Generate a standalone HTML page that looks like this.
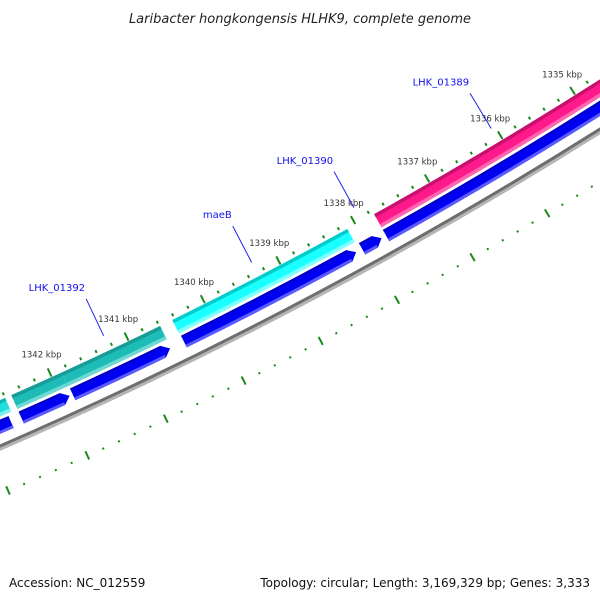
<!DOCTYPE html>
<html><head><meta charset="utf-8"><style>
html,body{margin:0;padding:0;background:#fff}
svg{display:block;font-family:"DejaVu Sans","Liberation Sans",sans-serif}
</style></head><body>
<svg id="map" width="600" height="600" viewBox="0 0 600 600" xmlns="http://www.w3.org/2000/svg">
<rect width="600" height="600" fill="#fff"/>
<text x="300" y="23" text-anchor="middle" font-size="13" font-style="italic" fill="#222">Laribacter hongkongensis HLHK9, complete genome</text>
<g id="rings"></g>
<text x="9" y="587" font-size="12" fill="#111">Accession: NC_012559</text>
<text x="590" y="587" text-anchor="end" font-size="12" fill="#111">Topology: circular; Length: 3,169,329 bp; Genes: 3,333</text>
</svg>
<script>
// feature data (kbp)
const featStart = [1337.75, 1338.11, 1340.59, 1341.87, 1342.60];
const featEnd   = [1334.00, 1340.43, 1341.87, 1342.52, 1344.00];
const featKind  = ['pink','cyan','teal','teal','tealcyan'];
const revStart = [1337.75, 1338.07, 1340.42, 1341.86, 1342.52, 1342.65];
const revEnd   = [1334.00, 1337.81, 1338.15, 1340.60, 1341.90, 1344.00];
const majorTicks = [1334, 1335, 1336, 1337, 1338, 1339, 1340, 1341, 1342, 1343];
const tickLabels = ['1334 kbp','1335 kbp','1336 kbp','1337 kbp','1338 kbp','1339 kbp','1340 kbp','1341 kbp','1342 kbp','1343 kbp'];
const geneNames = ['LHK_01389','LHK_01390','maeB','LHK_01392'];
const geneAt    = [1336.05, 1337.92, 1339.29, 1341.24];

const CX=-1782, CY=-3654, NS='http://www.w3.org/2000/svg';
const g=document.getElementById('rings');
function ang(k){return (61.14+(k-1338)*1.1)*Math.PI/180;}
function pt(k,r){const a=ang(k);return [CX+r*Math.cos(a),CY+r*Math.sin(a)];}
function f(p){return p[0].toFixed(2)+' '+p[1].toFixed(2);}
function band(k1,k2,r1,r2){
  if(k1>k2){const t=k1;k1=k2;k2=t;}
  return 'M'+f(pt(k1,r2))+' A'+r2+' '+r2+' 0 0 1 '+f(pt(k2,r2))+' L'+f(pt(k2,r1))+' A'+r1+' '+r1+' 0 0 0 '+f(pt(k1,r1))+'Z';
}
function mk(tag,attrs){const e=document.createElementNS(NS,tag);for(const a in attrs)e.setAttribute(a,attrs[a]);g.appendChild(e);return e;}

// backbone
let e=mk('path',{d:band(1333,1345,4471.5,4475),fill:'#b5b5b5'});


e=mk('path',{d:band(1333,1345,4469,4472),fill:'#6e6e6e'});



const pal={pink:['#c8106e','#ff1a8c','#ff66b0'],cyan:['#00cccc','#1affff','#80ffff'],teal:['#179c98','#1ebcb6','#6ed8d4'],tealcyan:['#10b8b8','#22dede','#7fefef']};
// forward features
for(let i=0;i<featStart.length;i++){
  const c=pal[featKind[i]];
  const grp=document.createElementNS(NS,'g');g.appendChild(grp);
  
  
  [[4428.5,4443.5,c[1]],[4428.5,4432,c[0]],[4440,4443.5,c[2]]].forEach(b=>{
    const p=document.createElementNS(NS,'path');p.setAttribute('d',band(featStart[i],featEnd[i],b[0],b[1]));p.setAttribute('fill',b[2]);grp.appendChild(p);
  });
}
// reverse (blue) features with arrowheads at lower-kbp end
for(let i=0;i<revStart.length;i++){
  const s=revStart[i],t=revEnd[i];
  const head=Math.min(0.09,Math.abs(s-t)*0.4);
  const hb=t+head, r1=4446.5, r2=4459.5, rm=(r1+r2)/2;
  const d='M'+f(pt(s,r1))+' A'+r1+' '+r1+' 0 0 0 '+f(pt(hb,r1))+' L'+f(pt(t,rm))+' L'+f(pt(hb,r2))+' A'+r2+' '+r2+' 0 0 1 '+f(pt(s,r2))+'Z';
  e=mk('path',{d:d,fill:'#0000f0'});
  
  
  e=mk('path',{d:band(s,hb,4456.5,4459.5),fill:'#5a5aff'});
  
  
  e=mk('path',{d:band(s,hb,4446.5,4448.5),fill:'#0000c0'});
  
  
}
// ruler ticks
for(let k=1333.0;k<=1344.01;k+=0.2){
  const kk=Math.round(k*10)/10, major=Math.abs(kk-Math.round(kk))<0.01;
  const a=major?[4419,4428]:[4422.5,4425.5];
  e=mk('line',{x1:pt(kk,a[0])[0],y1:pt(kk,a[0])[1],x2:pt(kk,a[1])[0],y2:pt(kk,a[1])[1],stroke:'#1a8a1a','stroke-width':2});
  
  
  const b=major?[4510,4519]:[4514,4516];
  e=mk('line',{x1:pt(kk,b[0])[0],y1:pt(kk,b[0])[1],x2:pt(kk,b[1])[0],y2:pt(kk,b[1])[1],stroke:'#1a8a1a','stroke-width':2});
  
  
}
for(let i=0;i<majorTicks.length;i++){
  const p=pt(majorTicks[i],4404);
  e=mk('text',{x:p[0],y:p[1]+3,'text-anchor':'middle','font-size':8.5,fill:'#333'});
  e.textContent=tickLabels[i];
  
  
}
for(let i=0;i<geneNames.length;i++){
  const a=pt(geneAt[i],4372), b=pt(geneAt[i],4413);
  e=mk('line',{x1:a[0],y1:a[1],x2:b[0],y2:b[1],stroke:'#2222ee','stroke-width':1});
  
  
  e=mk('text',{x:a[0]-1,y:a[1]-8,'text-anchor':'end','font-size':10,fill:'#1010ee'});
  e.textContent=geneNames[i];
  
  
}
</script>
</body></html>
